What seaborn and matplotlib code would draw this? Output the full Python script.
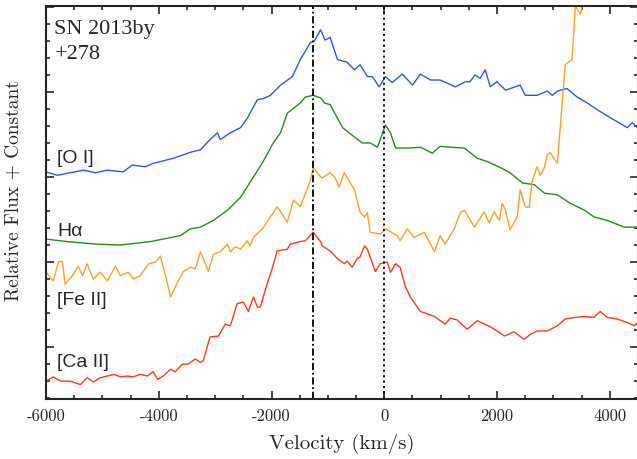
import matplotlib
matplotlib.use("Agg")
import matplotlib.pyplot as plt
import numpy as np
import seaborn as sns
from matplotlib.ticker import MultipleLocator

# [O I]
v_oi = [-6000, -5800, -5570, -5340, -5120, -4910, -4630, -4470, -4240, -4100, -3920,
        -3740, -3440, -3260, -3090, -2960, -2910, -2730, -2550, -2430, -2250, -2150,
        -2020, -1840, -1630, -1490, -1310, -1240, -1130, -1050, -960, -830, -660, -530,
        -430, -300, -210, -90, 20, 140, 320, 500, 640, 820, 990, 1260, 1440, 1520,
        1610, 1700, 1790, 1880, 2000, 2150, 2410, 2500, 2710, 2890, 2980, 3070, 3240,
        3420, 3600, 3780, 3950, 4130, 4310, 4400, 4490]
f_oi = [3.06, 3.02, 3.05, 3.08, 3.05, 3.08, 3.06, 3.14, 3.12, 3.16, 3.19,
        3.22, 3.29, 3.32, 3.44, 3.52, 3.44, 3.52, 3.58, 3.69, 3.91, 3.92,
        3.96, 4.08, 4.18, 4.38, 4.58, 4.60, 4.73, 4.61, 4.64, 4.38, 4.35, 4.26,
        4.32, 4.18, 4.18, 4.06, 4.18, 4.11, 4.21, 4.08, 4.21, 4.14, 4.14, 4.06, 4.12, 4.12,
        4.20, 4.16, 4.26, 4.06, 4.12, 4.02, 4.08, 3.96, 3.96, 4.01, 3.96, 4.01, 4.04,
        3.94, 3.87, 3.79, 3.72, 3.65, 3.58, 3.64, 3.58]

# H alpha
v_ha = [-6000, -5620, -5090, -4680, -4150, -3620, -3440, -3260, -3030, -2780, -2550,
        -2320, -2150, -1970, -1840, -1720, -1490, -1400, -1260, -1130, -1060, -960,
        -740, -530, -390, -250, -120, 20, 110, 200, 440, 640, 850, 990, 1170, 1420,
        1650, 1830, 2060, 2230, 2450, 2660, 2840, 3070, 3300, 3550, 3720, 3950, 4260, 4500]
f_ha = [2.27, 2.24, 2.21, 2.20, 2.24, 2.31, 2.39, 2.41, 2.49, 2.61, 2.76,
        3.00, 3.18, 3.40, 3.52, 3.75, 3.87, 3.94, 3.96, 3.93, 3.87, 3.85,
        3.58, 3.47, 3.40, 3.40, 3.35, 3.61, 3.52, 3.34, 3.34, 3.35, 3.28, 3.36, 3.35, 3.34,
        3.22, 3.18, 3.11, 3.05, 2.93, 2.91, 2.81, 2.79, 2.69, 2.61, 2.53, 2.49, 2.41, 2.41]

# [Fe II]
v_fe = [-6000, -5870, -5780, -5710, -5660, -5530, -5430, -5350, -5270, -5160, -5040,
        -4910, -4770, -4680, -4540, -4450, -4330, -4180, -4060, -3970, -3880, -3790,
        -3670, -3560, -3440, -3350, -3260, -3120, -3030, -2910, -2780, -2730, -2640,
        -2550, -2430, -2380, -2320, -2150, -1900, -1720, -1610, -1490, -1310, -1260,
        -1130, -1100, -960, -870, -800, -710, -530, -430, -350, -300, -250, -70, 20,
        230, 280, 410, 530, 710, 890, 990, 1080, 1240, 1350, 1420, 1600, 1770, 1860,
        1950, 2040, 2090, 2150, 2230, 2360, 2410, 2500, 2570, 2620, 2710, 2770, 2840,
        2890, 2940, 3070, 3210, 3330, 3390, 3480, 3580]
f_fe = [1.88, 1.78, 2.00, 2.01, 1.74, 1.84, 1.95, 1.84, 1.98, 1.80, 1.88,
        1.78, 1.95, 1.84, 1.88, 1.80, 1.84, 1.98, 2.00, 2.07, 1.84, 1.59,
        1.76, 1.89, 1.94, 1.92, 2.12, 1.89, 2.09, 2.12, 2.21, 2.12, 2.18,
        2.15, 2.25, 2.19, 2.29, 2.40, 2.65, 2.47, 2.73, 2.65, 2.96, 3.11,
        3.00, 2.99, 3.05, 2.99, 2.88, 3.05, 2.85, 2.59, 2.53, 2.58, 2.35, 2.33, 2.39,
        2.31, 2.25, 2.39, 2.29, 2.35, 2.12, 2.31, 2.21, 2.39, 2.58, 2.61, 2.41, 2.59, 2.46,
        2.59, 2.49, 2.69, 2.61, 2.38, 2.53, 2.85, 2.65, 2.64, 2.94, 3.12, 3.02, 3.11,
        3.26, 3.29, 3.16, 4.32, 4.38, 5.01, 4.91, 5.32]

# [Ca II]
v_ca = [-6000, -5870, -5740, -5570, -5390, -5270, -5160, -5040, -4910, -4800, -4680,
        -4560, -4450, -4330, -4200, -4100, -4020, -3920, -3790, -3710, -3580, -3480,
        -3350, -3260, -3210, -3090, -2940, -2820, -2730, -2610, -2500, -2410, -2320,
        -2250, -2200, -2070, -1990, -1900, -1720, -1670, -1490, -1400, -1260, -1130,
        -1100, -960, -830, -710, -660, -570, -480, -430, -350, -300, -160, -70, 50,
        110, 200, 280, 370, 460, 640, 890, 1080, 1170, 1290, 1470, 1650, 1880, 2000,
        2130, 2300, 2480, 2590, 2710, 2890, 3070, 3210, 3390, 3550, 3720, 3830, 3950,
        4130, 4310, 4430, 4500]
f_ca = [0.60, 0.65, 0.60, 0.60, 0.56, 0.64, 0.59, 0.64, 0.66, 0.68, 0.65,
        0.66, 0.65, 0.68, 0.66, 0.71, 0.62, 0.66, 0.74, 0.71, 0.80, 0.80,
        0.86, 0.82, 0.84, 1.12, 1.13, 1.27, 1.25, 1.51, 1.53, 1.42, 1.59,
        1.47, 1.47, 1.76, 1.92, 2.13, 2.15, 2.21, 2.24, 2.25, 2.35, 2.24,
        2.19, 2.13, 2.04, 1.98, 2.01, 1.94, 2.04, 2.06, 2.19, 2.15, 1.89, 1.98, 2.00,
        1.88, 1.98, 1.94, 1.72, 1.59, 1.42, 1.36, 1.27, 1.34, 1.32, 1.21, 1.31, 1.24, 1.19,
        1.13, 1.18, 1.09, 1.15, 1.19, 1.19, 1.25, 1.33, 1.35, 1.36, 1.35, 1.42, 1.35,
        1.33, 1.29, 1.25, 1.29]

serie = [
    (v_oi, f_oi, "#2f55f5", "[O I]", 3.22),
    (v_ha, f_ha, "#1e8f1e", "Hα", 2.36),
    (v_fe, f_fe, "#ffa024", "[Fe II]", 1.55),
    (v_ca, f_ca, "#ff3b1a", "[Ca II]", 0.82),
]
linie_pion = [(-1260, (0, (4, 1.5, 1, 1.5))), (0, (0, (1.2, 1.8)))]
xticks = [-6000, -4000, -2000, 0, 2000, 4000]

sns.set_style("ticks")
plt.rcParams["axes.unicode_minus"] = False
plt.rcParams["axes.formatter.use_mathtext"] = True

fig = plt.figure(figsize=(6.37, 4.59), dpi=100)
ax = fig.add_axes([46 / 637, 60 / 459, 592 / 637, 393 / 459])

for v, f, kolor, nazwa, ypos in serie:
    sns.lineplot(x=v, y=f, color=kolor, lw=1, estimator=None, sort=False, ax=ax)
    ax.text(-5800, ypos, nazwa, fontsize=14, family="Liberation Sans", va="center")

for xv, styl in linie_pion:
    ax.axvline(xv, color="black", ls=styl, lw=1.3)

ax.text(-5850, 4.73, "SN 2013by", fontsize=16, family="Liberation Serif", va="center")
ax.text(-5850, 4.44, "+278", fontsize=16, family="Liberation Serif", va="center")

ax.set_xlim(-6000, 4500)
ax.set_ylim(0.39, 5.01)
ax.set_xticks(xticks)
ax.set_xticklabels([str(t) for t in xticks], family="cmr10", fontsize=12)
ax.xaxis.set_minor_locator(MultipleLocator(500))
ax.yaxis.set_major_locator(MultipleLocator(1))
ax.yaxis.set_minor_locator(MultipleLocator(0.2))
ax.set_yticklabels([])
ax.tick_params(which="both", direction="in", top=True, right=True, width=1.2)
ax.tick_params(which="major", length=6, pad=7)
ax.tick_params(which="minor", length=3)
for s in ax.spines.values():
    s.set_linewidth(1.5)

ax.set_xlabel("Velocity (km/s)", family="cmr10", fontsize=15)
ax.set_ylabel("Relative Flux + Constant", family="cmr10", fontsize=14)
ax.yaxis.set_label_coords(-0.04, 0.53)
ax.xaxis.set_label_coords(0.5, -0.088)

fig.savefig("out.png", dpi=100)
